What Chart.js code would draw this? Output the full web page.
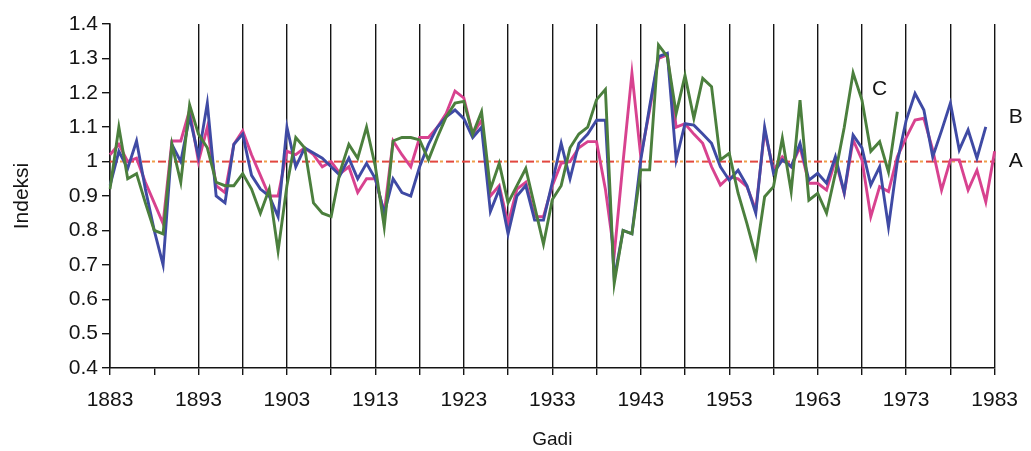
<!DOCTYPE html>
<html>
<head>
<meta charset="utf-8">
<title>Indeksi</title>
<script src="https://cdn.jsdelivr.net/npm/chart.js@4.4.1/dist/chart.umd.min.js"></script>
<style>
  html, body { margin: 0; padding: 0; background: #fff; }
</style>
</head>
<body>
<canvas id="myChart" width="1031" height="451"></canvas>
<script>
(() => {
    "use strict";

    // Gadi (years on the category axis)
    const years = [
        1883, 1884, 1885, 1886, 1887, 1888, 1889, 1890, 1891, 1892,
        1893, 1894, 1895, 1896, 1897, 1898, 1899, 1900, 1901, 1902,
        1903, 1904, 1905, 1906, 1907, 1908, 1909, 1910, 1911, 1912,
        1913, 1914, 1915, 1916, 1917, 1918, 1919, 1920, 1921, 1922,
        1923, 1924, 1925, 1926, 1927, 1928, 1929, 1930, 1931, 1932,
        1933, 1934, 1935, 1936, 1937, 1938, 1939, 1940, 1941, 1942,
        1943, 1944, 1945, 1946, 1947, 1948, 1949, 1950, 1951, 1952,
        1953, 1954, 1955, 1956, 1957, 1958, 1959, 1960, 1961, 1962,
        1963, 1964, 1965, 1966, 1967, 1968, 1969, 1970, 1971, 1972,
        1973, 1974, 1975, 1976, 1977, 1978, 1979, 1980, 1981, 1982,
        1983
    ];

    // years that get a tick label
    const labeledYears = [1883, 1893, 1903, 1913, 1923, 1933, 1943, 1953, 1963, 1973, 1983];

    // series A (pink), 1883-1983
    const seriesA = [
        1.02, 1.05, 1.00, 1.01, 0.94, 0.88, 0.82, 1.06, 1.06, 1.15,
        1.00, 1.10, 0.93, 0.91, 1.05, 1.09, 1.02, 0.96, 0.90, 0.90,
        1.03, 1.02, 1.04, 1.02, 0.985, 1.00, 0.965, 0.985, 0.91, 0.95,
        0.95, 0.85, 1.06, 1.02, 0.985, 1.07, 1.07, 1.10, 1.14, 1.205,
        1.185, 1.08, 1.12, 0.90, 0.93, 0.82, 0.92, 0.94, 0.84, 0.84,
        0.93, 0.995, 1.00, 1.04, 1.058, 1.058, 0.92, 0.73, 1.00, 1.257,
        1.014, 1.15, 1.30, 1.31, 1.10, 1.11, 1.08, 1.053, 0.985, 0.932,
        0.956, 0.95, 0.927, 0.86, 1.09, 0.975, 1.014, 0.985, 1.043, 0.937,
        0.937, 0.917, 1.005, 0.908, 1.063, 1.005, 0.84, 0.927, 0.913, 1.014,
        1.07, 1.121, 1.126, 1.034, 0.917, 1.005, 1.005, 0.917, 0.975, 0.883,
        1.03
    ];

    // series B (blue), 1883-1982
    const seriesB = [
        0.93, 1.03, 0.98, 1.06, 0.92, 0.80, 0.70, 1.05, 1.00, 1.13,
        1.015, 1.17, 0.90, 0.88, 1.05, 1.08, 0.96, 0.92, 0.90, 0.84,
        1.10, 0.985, 1.04, 1.025, 1.01, 0.985, 0.96, 1.01, 0.95, 0.995,
        0.95, 0.85, 0.95, 0.91, 0.90, 0.985, 1.05, 1.10, 1.13, 1.15,
        1.125, 1.07, 1.10, 0.855, 0.92, 0.79, 0.90, 0.93, 0.83, 0.83,
        0.94, 1.053, 0.95, 1.053, 1.08, 1.12, 1.12, 0.66, 0.80, 0.79,
        1.005, 1.16, 1.305, 1.315, 1.005, 1.11, 1.106, 1.08, 1.053, 0.985,
        0.946, 0.975, 0.93, 0.85, 1.10, 0.966, 1.005, 0.985, 1.053, 0.946,
        0.966, 0.937, 1.014, 0.91, 1.077, 1.04, 0.932, 0.985, 0.81, 1.00,
        1.12, 1.198, 1.15, 1.014, 1.09, 1.17, 1.034, 1.092, 1.01, 1.101
    ];

    // series C (green), 1883-1972
    const seriesC = [
        0.92, 1.10, 0.95, 0.965, 0.88, 0.80, 0.79, 1.05, 0.94, 1.165,
        1.08, 1.04, 0.94, 0.93, 0.93, 0.965, 0.92, 0.85, 0.92, 0.74,
        0.93, 1.07, 1.04, 0.88, 0.85, 0.84, 0.97, 1.05, 1.01, 1.10,
        0.985, 0.81, 1.06, 1.07, 1.07, 1.063, 1.005, 1.07, 1.13, 1.17,
        1.175, 1.08, 1.145, 0.92, 0.995, 0.88, 0.93, 0.98, 0.87, 0.76,
        0.89, 0.93, 1.04, 1.08, 1.10, 1.18, 1.21, 0.646, 0.80, 0.79,
        0.976, 0.976, 1.339, 1.305, 1.14, 1.25, 1.126, 1.242, 1.218, 1.005,
        1.024, 0.908, 0.82, 0.724, 0.898, 0.927, 1.068, 0.913, 1.179, 0.888,
        0.908, 0.85, 0.966, 1.10, 1.258, 1.179, 1.03, 1.058, 0.97, 1.145
    ];

    const referenceValue = 1;

    const ink = "#141414";
    const fontFamily = "'Liberation Sans', Arial, Helvetica, sans-serif";

    Chart.defaults.font.family = fontFamily;
    Chart.defaults.color = ink;

    // dashed level line at 1 (red dashes, orange dots)
    const refLine = {
        id: "refLine",
        beforeDatasetsDraw(chart) {
            const { ctx, chartArea, scales } = chart;
            const y = scales.y.getPixelForValue(referenceValue);
            ctx.save();
            ctx.lineWidth = 2;
            ctx.beginPath();
            ctx.moveTo(chartArea.left, y);
            ctx.lineTo(chartArea.right, y);
            ctx.setLineDash([8, 8]);
            ctx.strokeStyle = "#e2473f";
            ctx.stroke();
            ctx.setLineDash([3, 13]);
            ctx.lineDashOffset = -10;
            ctx.strokeStyle = "#f0a04a";
            ctx.stroke();
            ctx.restore();
        }
    };

    // the A / B / C tags next to the lines
    const seriesTags = {
        id: "seriesTags",
        afterDatasetsDraw(chart) {
            const { ctx, chartArea, scales } = chart;
            ctx.save();
            ctx.font = "21px " + fontFamily;
            ctx.fillStyle = ink;
            ctx.textAlign = "center";
            ctx.textBaseline = "middle";
            ctx.fillText("C", scales.x.getPixelForValue(years.indexOf(1970)), scales.y.getPixelForValue(1.21));
            ctx.fillText("B", chartArea.right + 21, scales.y.getPixelForValue(1.13));
            ctx.fillText("A", chartArea.right + 21, scales.y.getPixelForValue(1.0));
            ctx.restore();
        }
    };

    const lineStyle = {
        borderWidth: 2.9,
        pointRadius: 0,
        tension: 0,
        fill: false
    };

    const ctx = document.getElementById("myChart").getContext("2d");
    // eslint-disable-next-line no-unused-vars
    const myChart = new Chart(ctx, {
        type: "line",
        data: {
            labels: years,
            datasets: [
                Object.assign({ label: "A", data: seriesA, borderColor: "#d8428f", order: 3 }, lineStyle),
                Object.assign({ label: "B", data: seriesB, borderColor: "#3f4aa4", order: 2 }, lineStyle),
                Object.assign({ label: "C", data: seriesC, borderColor: "#4b7f3d", order: 1 }, lineStyle)
            ]
        },
        options: {
            responsive: false,
            animation: false,
            devicePixelRatio: 1,
            layout: { padding: { left: 0, right: 34, top: 24, bottom: 0 } },
            plugins: {
                legend: { display: false },
                tooltip: { enabled: false }
            },
            scales: {
                x: {
                    ticks: {
                        autoSkip: false,
                        maxRotation: 0,
                        minRotation: 0,
                        padding: 13,
                        font: { size: 21 },
                        color: ink,
                        callback: (v, i) => labeledYears.includes(years[i]) ? String(years[i]) : ""
                    },
                    grid: {
                        drawTicks: true,
                        tickLength: 7,
                        lineWidth: 1.4,
                        // a line every 5 years, 1888 only has its tick
                        color: (c) => (c.index % 5 === 0 && years[c.index] !== 1888) ? ink : "rgba(0,0,0,0)",
                        tickColor: (c) => c.index % 5 === 0 ? ink : "rgba(0,0,0,0)"
                    },
                    border: { display: true, color: ink, width: 1.5 },
                    title: {
                        display: true,
                        text: "Gadi",
                        font: { size: 19 },
                        color: ink,
                        padding: { top: 0, bottom: 0 }
                    },
                    afterFit: (scale) => { scale.height = 83; }
                },
                y: {
                    min: 0.4,
                    max: 1.4,
                    ticks: {
                        stepSize: 0.1,
                        padding: 4,
                        font: { size: 21 },
                        color: ink,
                        callback: (v) => String(Math.round(v * 10) / 10)
                    },
                    grid: {
                        drawOnChartArea: false,
                        drawTicks: true,
                        tickLength: 8,
                        lineWidth: 1.4,
                        color: ink,
                        tickColor: ink
                    },
                    border: { display: true, color: ink, width: 1.5 },
                    title: {
                        display: true,
                        text: "Indeksi",
                        font: { size: 21 },
                        color: ink,
                        padding: { top: 10, bottom: 0 }
                    },
                    afterFit: (scale) => { scale.width = 110; }
                }
            }
        },
        plugins: [refLine, seriesTags]
    });
})();
</script>
</body>
</html>
